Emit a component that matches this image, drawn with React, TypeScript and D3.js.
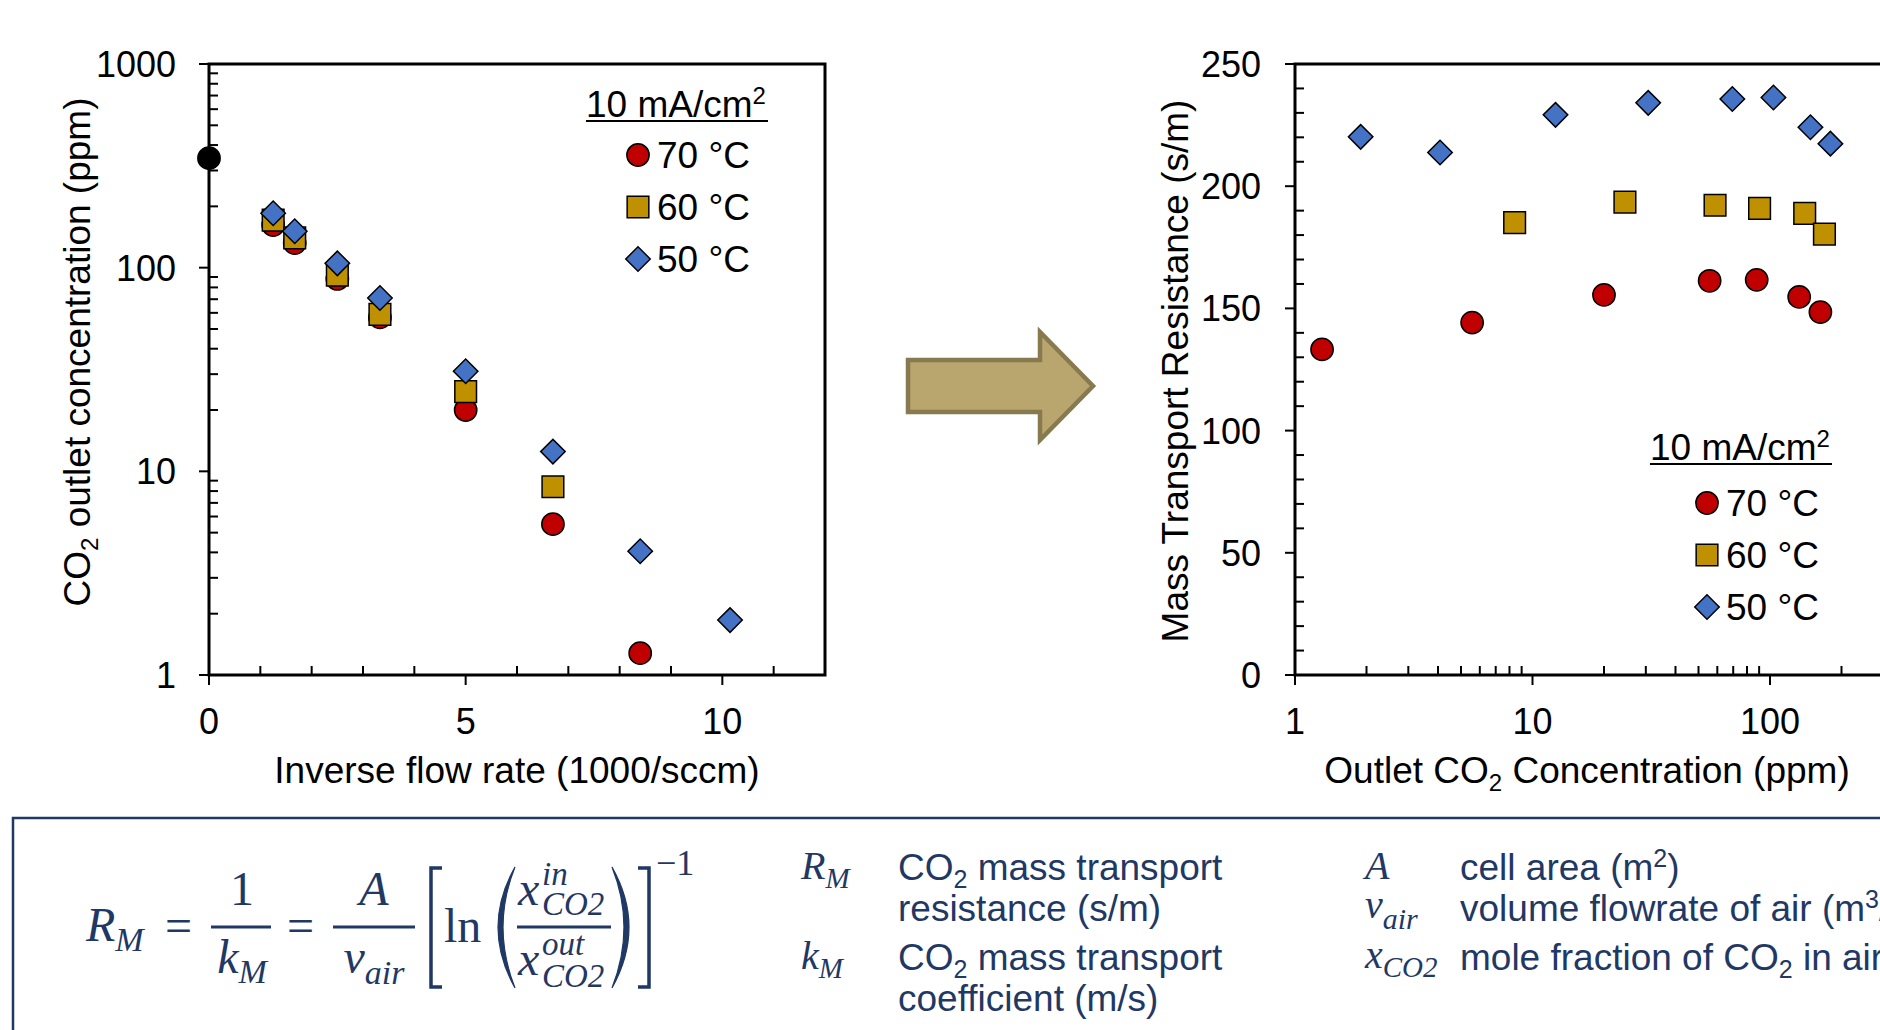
import React from "react";
import * as d3 from "d3";

// left chart: CO2 outlet concentration vs inverse flow rate
const inletFlow = [0];
const inletConc = [345];
const invFlow70 = [1.25, 1.67, 2.5, 3.33, 5, 6.7, 8.4];
const conc70 = [162, 132, 88, 57, 20, 5.5, 1.28];
const invFlow60 = [1.25, 1.67, 2.5, 3.33, 5, 6.7];
const conc60 = [171, 140, 92, 59, 24.6, 8.4];
const invFlow50 = [1.25, 1.67, 2.5, 3.33, 5, 6.7, 8.4, 10.15];
const conc50 = [185, 151, 105, 71, 31, 12.5, 4.05, 1.86];

// right chart: mass transport resistance vs outlet concentration
const outlet70 = [1.3, 5.57, 20.0, 55.7, 87.9, 132.7, 163];
const resist70 = [133.2, 144.2, 155.5, 161.3, 161.7, 154.7, 148.5];
const outlet60 = [8.41, 24.5, 58.7, 90.4, 140, 169.5];
const resist60 = [185.1, 193.5, 192.2, 190.9, 188.9, 180.4];
const outlet50 = [1.89, 4.08, 12.5, 30.7, 69.4, 103.4, 148, 179.6];
const resist50 = [220.2, 213.8, 229.2, 234.1, 235.7, 236.3, 224.1, 217.4];

const leftXTicks = [0, 5, 10];
const leftYTicks = [1, 10, 100, 1000];
const rightXTicks = [1, 10, 100, 1000];
const rightYTicks = [0, 50, 100, 150, 200, 250];
const legendLabels = ["70 °C", "60 °C", "50 °C"];

const FONT = "'Liberation Sans', Arial, sans-serif";
const SERIF = "'Liberation Serif', 'Times New Roman', serif";
const NAVY = "#1f3864";
const RED = "#c00000";
const GOLD = "#bf9000";
const BLUE = "#4472c4";
const W = 1880;

const symbols = {
  circle: d3.symbol(d3.symbolCircle, 390)(),
  square: d3.symbol(d3.symbolSquare, 470)(),
  diamond: d3.symbol(d3.symbolSquare, 300)(),
};
const fills = { circle: RED, square: GOLD, diamond: BLUE };
const kinds = ["circle", "square", "diamond"] as const;

function Marker({ kind, x, y, fill }: { kind: string; x: number; y: number; fill?: string }) {
  return (
    <path
      d={symbols[kind]}
      transform={`translate(${x},${y})${kind === "diamond" ? " rotate(45)" : ""}`}
      fill={fill || fills[kind]}
      stroke="#000"
      strokeWidth={1.5}
    />
  );
}

function Legend({ x, y, dx = 0, dy = 0 }: { x: number; y: number; dx?: number; dy?: number }) {
  // x = left of title, y = title baseline
  return (
    <g fontFamily={FONT} fontSize={37}>
      <text x={x} y={y}>
        10 mA/cm<tspan dy={-13} fontSize={24}>2</tspan>
      </text>
      <line x1={x} x2={x + 182} y1={y + 4} y2={y + 4} stroke="#000" strokeWidth={2} />
      {kinds.map((k, i) => (
        <g key={k}>
          <Marker kind={k} x={x + 52 + dx} y={y + 38 + dy + i * 52} />
          <text x={x + 71 + dx} y={y + 51 + dy + i * 52}>{legendLabels[i]}</text>
        </g>
      ))}
    </g>
  );
}

export default function App() {
  const top = 64, bottom = 675;

  // left chart scales
  const lx = d3.scaleLinear().domain([0, 12]).range([209, 825]);
  const ly = d3.scaleLog().domain([1, 1000]).range([bottom, top]);
  // right chart scales (plot runs past the right edge of the picture)
  const rx = d3.scaleLog().domain([1, 1000]).range([1295, 2007.5]);
  const ry = d3.scaleLinear().domain([0, 250]).range([bottom, top]);

  const leftSeries = [
    { kind: "circle", xs: invFlow70, ys: conc70 },
    { kind: "square", xs: invFlow60, ys: conc60 },
    { kind: "diamond", xs: invFlow50, ys: conc50 },
  ];
  const rightSeries = [
    { kind: "circle", xs: outlet70, ys: resist70 },
    { kind: "square", xs: outlet60, ys: resist60 },
    { kind: "diamond", xs: outlet50, ys: resist50 },
  ];

  const lyMinor = ly.ticks().filter((t) => !leftYTicks.includes(t));
  const lxMinor = d3.range(0, 13).filter((t) => !leftXTicks.includes(t));
  const ryMinor = d3.range(0, 251, 10).filter((t) => !rightYTicks.includes(t));
  const rxMinor = rx.ticks().filter((t) => !rightXTicks.includes(t));

  return (
    <svg
      width={W}
      height={1030}
      style={{ position: "absolute", left: 0, top: 0, background: "#fff" }}
      fontFamily={FONT}
    >
      {/* ---------- left chart ---------- */}
      <g stroke="#000" strokeWidth={2}>
        {leftYTicks.map((t) => (
          <line key={t} x1={lx(0) - 10} x2={lx(0)} y1={ly(t)} y2={ly(t)} />
        ))}
        {lyMinor.map((t) => (
          <line key={t} x1={lx(0)} x2={lx(0) + 9} y1={ly(t)} y2={ly(t)} />
        ))}
        {leftXTicks.map((t) => (
          <line key={t} x1={lx(t)} x2={lx(t)} y1={bottom} y2={bottom + 10} />
        ))}
        {lxMinor.map((t) => (
          <line key={t} x1={lx(t)} x2={lx(t)} y1={bottom} y2={bottom - 9} />
        ))}
      </g>
      <rect x={lx(0)} y={top} width={lx(12) - lx(0)} height={bottom - top} fill="none" stroke="#000" strokeWidth={3} />
      <g fontSize={36} fill="#000">
        {leftYTicks.map((t) => (
          <text key={t} x={lx(0) - 33} y={ly(t) + 13} textAnchor="end">{t}</text>
        ))}
        {leftXTicks.map((t) => (
          <text key={t} x={lx(t)} y={734} textAnchor="middle">{t}</text>
        ))}
      </g>
      <text x={517} y={783} textAnchor="middle" fontSize={37}>Inverse flow rate (1000/sccm)</text>
      <text transform="translate(90,352) rotate(-90)" textAnchor="middle" fontSize={37}>
        CO<tspan dy={8} fontSize={24}>2</tspan>
        <tspan dy={-8}> outlet concentration (ppm)</tspan>
      </text>
      {inletFlow.map((v, i) => (
        <Marker key={i} kind="circle" x={lx(v)} y={ly(inletConc[i])} fill="#000" />
      ))}
      {leftSeries.map((s) =>
        s.xs.map((v, i) => <Marker key={s.kind + i} kind={s.kind} x={lx(v)} y={ly(s.ys[i])} />)
      )}
      <Legend x={586} y={117} />

      {/* ---------- arrow ---------- */}
      <polygon
        points="908,360 1040,360 1040,332 1093,386 1040,440 1040,412 908,412"
        fill="#b8a66e"
        stroke="#887a4f"
        strokeWidth={4.5}
      />

      {/* ---------- right chart ---------- */}
      <g stroke="#000" strokeWidth={2}>
        {rightYTicks.map((t) => (
          <line key={t} x1={rx(1) - 10} x2={rx(1)} y1={ry(t)} y2={ry(t)} />
        ))}
        {ryMinor.map((t) => (
          <line key={t} x1={rx(1)} x2={rx(1) + 9} y1={ry(t)} y2={ry(t)} />
        ))}
        {rightXTicks.map((t) => (
          <line key={t} x1={rx(t)} x2={rx(t)} y1={bottom} y2={bottom + 10} />
        ))}
        {rxMinor.map((t) => (
          <line key={t} x1={rx(t)} x2={rx(t)} y1={bottom} y2={bottom - 9} />
        ))}
      </g>
      <path
        d={`M${rx(1000)},${top}H${rx(1)}V${bottom}H${rx(1000)}`}
        fill="none"
        stroke="#000"
        strokeWidth={3}
      />
      <g fontSize={36} fill="#000">
        {rightYTicks.map((t) => (
          <text key={t} x={rx(1) - 34} y={ry(t) + 13} textAnchor="end">{t}</text>
        ))}
        {rightXTicks.filter((t) => rx(t) < W).map((t) => (
          <text key={t} x={rx(t)} y={734} textAnchor="middle">{t}</text>
        ))}
      </g>
      <text x={1587} y={783} textAnchor="middle" fontSize={37}>
        Outlet CO<tspan dy={8} fontSize={24}>2</tspan>
        <tspan dy={-8}> Concentration (ppm)</tspan>
      </text>
      <text transform="translate(1188,371) rotate(-90)" textAnchor="middle" fontSize={37}>
        Mass Transport Resistance (s/m)
      </text>
      {rightSeries.map((s) =>
        s.xs.map((v, i) => <Marker key={s.kind + i} kind={s.kind} x={rx(v)} y={ry(s.ys[i])} />)
      )}
      <Legend x={1650} y={460} dx={5} dy={5} />

      {/* ---------- equation box ---------- */}
      <rect x={13} y={818} width={2000} height={400} fill="none" stroke={NAVY} strokeWidth={2.5} />
      <g fill={NAVY} fontFamily={SERIF} fontSize={48}>
        <text x={86} y={941} fontStyle="italic">
          R<tspan dy={10} fontSize={34}>M</tspan>
        </text>
        <text x={165} y={942}>=</text>
        <line x1={211} x2={271} y1={927} y2={927} stroke={NAVY} strokeWidth={3.2} />
        <text x={242} y={905} textAnchor="middle">1</text>
        <text x={242} y={973} textAnchor="middle" fontStyle="italic">
          k<tspan dy={10} fontSize={34}>M</tspan>
        </text>
        <text x={287} y={942}>=</text>
        <line x1={333} x2={415} y1={927} y2={927} stroke={NAVY} strokeWidth={3.2} />
        <text x={374} y={905} textAnchor="middle" fontStyle="italic">A</text>
        <text x={374} y={973} textAnchor="middle" fontStyle="italic">
          v<tspan dy={11} fontSize={34}>air</tspan>
        </text>
        <path d="M442,868H431V987H442" fill="none" stroke={NAVY} strokeWidth={3.5} />
        <text x={444} y={942}>ln</text>
        <path d="M515,867Q481,927 515,988Q491,927 515,867Z" fill={NAVY} stroke={NAVY} strokeWidth={1.2} />
        <text x={518} y={905} fontStyle="italic">x</text>
        <text x={542} y={885} fontStyle="italic" fontSize={33}>in</text>
        <text x={542} y={915} fontStyle="italic" fontSize={33}>CO2</text>
        <line x1={517} x2={611} y1={927} y2={927} stroke={NAVY} strokeWidth={3.2} />
        <text x={518} y={975} fontStyle="italic">x</text>
        <text x={542} y={955} fontStyle="italic" fontSize={33}>out</text>
        <text x={542} y={987} fontStyle="italic" fontSize={33}>CO2</text>
        <path d="M612,867Q646,927 612,988Q636,927 612,867Z" fill={NAVY} stroke={NAVY} strokeWidth={1.2} />
        <path d="M638,868H649V987H638" fill="none" stroke={NAVY} strokeWidth={3.5} />
        <text x={656} y={875} fontSize={36}>−1</text>
      </g>

      {/* symbol definitions */}
      <g fill={NAVY} fontFamily={SERIF} fontStyle="italic" fontSize={40}>
        <text x={801} y={879}>
          R<tspan dy={9} fontSize={29}>M</tspan>
        </text>
        <text x={801} y={969}>
          k<tspan dy={9} fontSize={29}>M</tspan>
        </text>
        <text x={1365} y={879}>A</text>
        <text x={1365} y={918}>
          v<tspan dy={11} fontSize={30}>air</tspan>
        </text>
        <text x={1365} y={968}>
          x<tspan dy={9} fontSize={29}>CO2</tspan>
        </text>
      </g>
      <g fill={NAVY} fontFamily={FONT} fontSize={37}>
        <text x={898} y={880}>
          CO<tspan dy={8} fontSize={25}>2</tspan>
          <tspan dy={-8}> mass transport</tspan>
        </text>
        <text x={898} y={921}>resistance (s/m)</text>
        <text x={898} y={970}>
          CO<tspan dy={8} fontSize={25}>2</tspan>
          <tspan dy={-8}> mass transport</tspan>
        </text>
        <text x={898} y={1011}>coefficient (m/s)</text>
        <text x={1460} y={880}>
          cell area (m<tspan dy={-13} fontSize={25}>2</tspan>
          <tspan dy={13}>)</tspan>
        </text>
        <text x={1460} y={921}>
          volume flowrate of air (m<tspan dy={-13} fontSize={25}>3</tspan>
          <tspan dy={13}>/s)</tspan>
        </text>
        <text x={1460} y={970}>
          mole fraction of CO<tspan dy={8} fontSize={25}>2</tspan>
          <tspan dy={-8}> in air</tspan>
        </text>
      </g>
    </svg>
  );
}
